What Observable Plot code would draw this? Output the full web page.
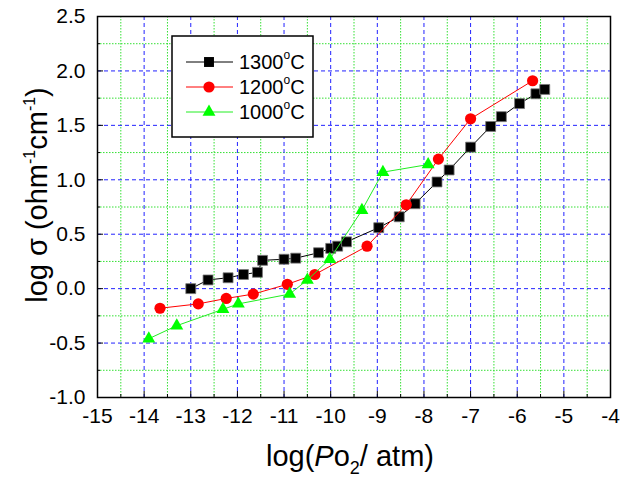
<!DOCTYPE html>
<html>
<head>
<meta charset="utf-8">
<script src="https://cdn.jsdelivr.net/npm/d3@7"></script>
<script src="https://cdn.jsdelivr.net/npm/@observablehq/plot@0.6"></script>
<style>
  html, body { margin: 0; padding: 0; background: #fff; }
  svg { font-family: "Liberation Sans", Arial, sans-serif; }
</style>
</head>
<body>
<div id="chart"></div>
<script>
// ---- data ----
const seriesNames = ["1300", "1200", "1000"];

const x1300 = [-13.0, -12.63, -12.2, -11.87, -11.57, -11.46, -11.0, -10.75, -10.26, -10.0, -9.85, -9.66, -8.97, -8.53, -8.19, -7.72, -7.46, -7.0, -6.57, -6.34, -5.95, -5.6, -5.41];
const y1300 = [0.0, 0.08, 0.10, 0.13, 0.15, 0.26, 0.27, 0.28, 0.33, 0.37, 0.39, 0.43, 0.56, 0.66, 0.78, 0.98, 1.09, 1.30, 1.49, 1.58, 1.70, 1.79, 1.83];

const x1200 = [-13.66, -12.84, -12.24, -11.66, -10.93, -10.34, -9.22, -8.38, -7.69, -7.0, -5.67];
const y1200 = [-0.18, -0.14, -0.09, -0.05, 0.04, 0.13, 0.39, 0.77, 1.19, 1.56, 1.91];

const x1000 = [-13.9, -13.3, -12.31, -11.98, -10.88, -10.5, -10.02, -9.33, -8.88, -7.91];
const y1000 = [-0.46, -0.34, -0.19, -0.14, -0.05, 0.08, 0.27, 0.72, 1.07, 1.14];

const xMajor = [-15, -14, -13, -12, -11, -10, -9, -8, -7, -6, -5, -4];
const xMinor = [-14.5, -13.5, -12.5, -11.5, -10.5, -9.5, -8.5, -7.5, -6.5, -5.5, -4.5];
const yMajor = [-1.0, -0.5, 0.0, 0.5, 1.0, 1.5, 2.0, 2.5];
const yMinor = [-0.75, -0.25, 0.25, 0.75, 1.25, 1.75, 2.25];

const toRows = (xs, ys) => xs.map((x, i) => ({x, y: ys[i]}));
const d1300 = toRows(x1300, y1300);
const d1200 = toRows(x1200, y1200);
const d1000 = toRows(x1000, y1000);

const FONT = "Liberation Sans, Arial, sans-serif";

const plot = Plot.plot({
  width: 623,
  height: 477,
  marginLeft: 97,
  marginRight: 13,
  marginTop: 16,
  marginBottom: 80,
  style: {fontFamily: FONT, background: "#fff"},
  x: {domain: [-15, -4]},
  y: {domain: [-1, 2.5]},
  marks: [
    // grids
    Plot.gridX(xMinor, {stroke: "#33e033", strokeOpacity: 1, strokeWidth: 1, strokeDasharray: "1.5,1.5"}),
    Plot.gridY(yMinor, {stroke: "#33e033", strokeOpacity: 1, strokeWidth: 1, strokeDasharray: "1.5,1.5"}),
    Plot.gridX(xMajor.slice(1, -1), {stroke: "#2222ff", strokeOpacity: 1, strokeWidth: 1, strokeDasharray: "4,3"}),
    Plot.gridY(yMajor.slice(1, -1), {stroke: "#2222ff", strokeOpacity: 1, strokeWidth: 1, strokeDasharray: "4,3"}),
    // tick labels
    Plot.axisX(xMajor, {anchor: "bottom", tickSize: 0, tickPadding: 11, fontSize: 21, fill: "black",
      tickFormat: d => String(d), label: null}),
    Plot.axisY(yMajor, {anchor: "left", tickSize: 0, tickPadding: 12, fontSize: 20.5, fill: "black",
      tickFormat: d => d.toFixed(1), label: null}),
    // inward ticks
    Plot.axisX(xMajor, {anchor: "bottom", tickSize: 6, dy: -6, text: null, label: null, stroke: "black"}),
    Plot.axisX(xMinor, {anchor: "bottom", tickSize: 3, dy: -3, text: null, label: null, stroke: "black"}),
    Plot.axisY(yMajor, {anchor: "left", tickSize: 6, dx: 6, text: null, label: null, stroke: "black"}),
    Plot.axisY(yMinor, {anchor: "left", tickSize: 3, dx: 3, text: null, label: null, stroke: "black"}),
    Plot.frame({stroke: "black", strokeWidth: 1.5}),
    // series
    Plot.line(d1300, {x: "x", y: "y", stroke: "black", strokeWidth: 1}),
    Plot.dot(d1300, {x: "x", y: "y", symbol: "square", r: 5.6, fill: "black", stroke: "#777", strokeWidth: 0.8}),
    Plot.line(d1200, {x: "x", y: "y", stroke: "#ff0000", strokeWidth: 1}),
    Plot.dot(d1200, {x: "x", y: "y", symbol: "circle", r: 5.6, fill: "#ff0000", stroke: "none"}),
    Plot.line(d1000, {x: "x", y: "y", stroke: "#22ee22", strokeWidth: 1}),
    Plot.dot(d1000, {x: "x", y: "y", symbol: "triangle", r: 4.8, fill: "#00ff00", stroke: "none"})
  ]
});

document.getElementById("chart").appendChild(plot);

// ---- titles and legend ----
const svg = d3.select(plot);
// the only Plot texts are the tick labels: hyphen-minus like the reference, and a fixed size
svg.selectAll("text").each(function() {
  const t = d3.select(this);
  if (t.text().includes("\u2212")) t.text(t.text().replace(/\u2212/g, "-"));
  t.style("font-size", "21px").style("font-family", FONT);
});

const xt = svg.append("text")
  .attr("x", 350).attr("y", 466)
  .attr("text-anchor", "middle")
  .attr("font-size", 29).attr("fill", "black").attr("font-family", FONT);
xt.append("tspan").text("log(");
xt.append("tspan").attr("font-style", "italic").text("P");
xt.append("tspan").text("o");
xt.append("tspan").attr("font-size", 18).attr("dy", 8).text("2");
xt.append("tspan").attr("dy", -8).text("/ atm)");

const yt = svg.append("text")
  .attr("transform", "translate(47,195) rotate(-90)")
  .attr("text-anchor", "middle")
  .attr("font-size", 29).attr("fill", "black").attr("font-family", FONT);
yt.append("tspan").text("log \u03c3 (ohm");
yt.append("tspan").attr("font-size", 16).attr("dy", -12).text("-1");
yt.append("tspan").attr("dy", 12).text("cm");
yt.append("tspan").attr("font-size", 16).attr("dy", -12).text("-1");
yt.append("tspan").attr("dy", 12).text(")");

const legendItems = [
  {name: seriesNames[0], color: "black", sym: d3.symbolSquare, fill: "black", r: 5.6},
  {name: seriesNames[1], color: "#ff0000", sym: d3.symbolCircle, fill: "#ff0000", r: 5.6},
  {name: seriesNames[2], color: "#22ee22", sym: d3.symbolTriangle, fill: "#00ff00", r: 4.8}
];
const lg = svg.append("g");
lg.append("rect").attr("x", 172).attr("y", 36).attr("width", 141).attr("height", 101)
  .attr("fill", "white").attr("stroke", "black").attr("stroke-width", 1.5);
legendItems.forEach((d, i) => {
  const yy = 62 + i * 25;
  lg.append("line").attr("x1", 186).attr("x2", 233).attr("y1", yy).attr("y2", yy)
    .attr("stroke", d.color).attr("stroke-width", 1);
  lg.append("path").attr("transform", `translate(209,${yy})`)
    .attr("d", d3.symbol(d.sym, Math.PI * d.r * d.r)())
    .attr("fill", d.fill);
  const t = lg.append("text").attr("x", 239).attr("y", yy + 7)
    .attr("text-anchor", "start")
    .attr("font-size", 20).attr("fill", "black").attr("font-family", FONT);
  t.append("tspan").text(d.name);
  t.append("tspan").attr("font-size", 12).attr("dy", -10).text("o");
  t.append("tspan").attr("dy", 10).text("C");
});
</script>
</body>
</html>
